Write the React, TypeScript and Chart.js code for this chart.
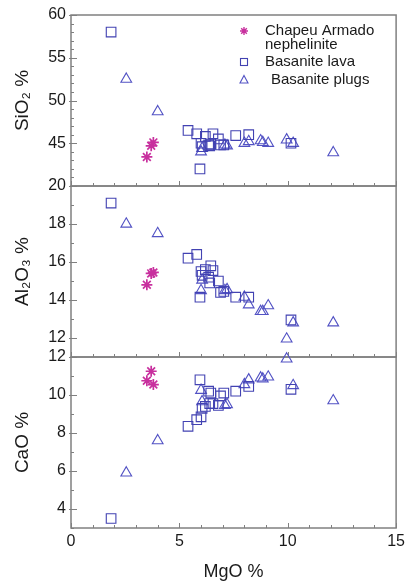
import React, { useEffect, useRef } from 'react';
import { Chart, registerables } from 'chart.js';

Chart.register(...registerables);

// ---- tick labels ----
const mgoTicks = [0, 5, 10, 15];
const sio2Ticks = [45, 50, 55, 60];
const al2o3Ticks = [12, 14, 16, 18, 20];
const caoTicks = [4, 6, 8, 10, 12];

// ---- series: Chapeu Armado nephelinite ----
const nephMgO = [3.5, 3.7, 3.8];
const nephSiO2 = [43.4, 44.7, 45.1];
const nephAl2O3 = [14.8, 15.4, 15.45];
const nephCaO = [10.75, 11.25, 10.55];

// ---- series: Basanite lava ----
const lavaMgO = [1.85, 5.4, 5.8, 5.95, 6.0, 6.05, 6.2, 6.35, 6.4, 6.45, 6.55, 6.8, 6.9, 7.05, 7.6, 8.2, 10.15];
const lavaSiO2 = [58.0, 46.5, 46.1, 42.0, 45.0, 44.6, 45.8, 44.8, 44.7, 44.9, 46.1, 45.5, 44.8, 44.8, 45.9, 46.0, 45.0];
const lavaAl2O3 = [19.1, 16.2, 16.4, 14.15, 15.5, 15.3, 15.6, 15.2, 14.9, 15.8, 15.55, 15.0, 14.4, 14.45, 14.15, 14.15, 12.95];
const lavaCaO = [3.5, 8.35, 8.7, 10.8, 8.85, 9.3, 9.4, 10.2, 9.55, 10.1, 9.55, 9.45, 9.95, 10.1, 10.2, 10.45, 10.3];

// ---- series: Basanite plugs ----
const plugMgO = [2.55, 4.0, 6.0, 6.05, 7.1, 7.2, 8.0, 8.2, 8.75, 8.85, 9.1, 9.95, 10.25, 12.1];
const plugSiO2 = [52.5, 48.7, 44.0, 44.4, 44.8, 44.7, 45.0, 45.2, 45.3, 45.1, 45.0, 45.4, 45.0, 43.9];
const plugAl2O3 = [18.0, 17.5, 14.5, 15.05, 14.5, 14.55, 14.15, 13.75, 13.4, 13.4, 13.7, 11.95, 12.8, 12.8];
const plugCaO = [5.9, 7.6, 10.25, 9.65, 9.45, 9.5, 10.55, 10.8, 10.9, 10.85, 10.95, 11.9, 10.5, 9.7];

const seriesNames = ['Chapeu Armado nephelinite', 'Basanite lava', 'Basanite plugs'];

const FONT = "'Liberation Sans', Arial, sans-serif";
const TEXT = '#1a1a1a';
const FRAME = '#808080';
const C_NEPH = '#c8309e';
const C_LAVA = '#4242b2';
const C_PLUG = '#5252c4';

const pts = (xs: number[], ys: number[]) => xs.map((x, i) => ({ x, y: ys[i] }));

const panels = [
  { id: 'ySi', min: 40, max: 60, ticks: sio2Ticks, title: 'SiO\u2082 %' },
  { id: 'yAl', min: 11, max: 20, ticks: al2o3Ticks, title: 'Al\u2082O\u2083 %' },
  { id: 'yCa', min: 3, max: 12, ticks: caoTicks, title: 'CaO %' },
];

const framePlugin = {
  id: 'frames',
  beforeDatasetsDraw(chart: any) {
    const { ctx, chartArea } = chart;
    const xs = chart.scales.x;
    ctx.save();
    ctx.strokeStyle = FRAME;
    panels.forEach((p) => {
      const ys = chart.scales[p.id];
      ctx.lineWidth = 1.5;
      ctx.strokeRect(chartArea.left, ys.top, chartArea.right - chartArea.left, ys.bottom - ys.top);
      ctx.lineWidth = 1;
      ctx.beginPath();
      for (let v = xs.min; v <= xs.max; v += 1) {
        const px = Math.round(xs.getPixelForValue(v)) + 0.5;
        const len = v % 5 === 0 ? 5 : 3;
        ctx.moveTo(px, ys.bottom);
        ctx.lineTo(px, ys.bottom - len);
      }
      for (let v = ys.min; v <= ys.max; v += 1) {
        const py = Math.round(ys.getPixelForValue(v)) + 0.5;
        const major = p.ticks.includes(v);
        ctx.moveTo(chartArea.left - (major ? 2 : 0), py);
        ctx.lineTo(chartArea.left + (major ? 6 : 3), py);
      }
      ctx.stroke();
    });
    ctx.restore();
  },
};

const legendPlugin = {
  id: 'customLegend',
  afterDraw(chart: any) {
    const { ctx } = chart;
    ctx.save();
    const mx = 244;
    const tx = 265;
    ctx.font = `15px ${FONT}`;
    ctx.fillStyle = TEXT;
    ctx.textBaseline = 'middle';
    ctx.textAlign = 'left';
    // asterisk
    ctx.strokeStyle = C_NEPH;
    ctx.lineWidth = 1.4;
    const ay = 31;
    const r = 4;
    ctx.beginPath();
    for (let k = 0; k < 4; k++) {
      const a = (k * Math.PI) / 4;
      ctx.moveTo(mx - Math.cos(a) * r, ay - Math.sin(a) * r);
      ctx.lineTo(mx + Math.cos(a) * r, ay + Math.sin(a) * r);
    }
    ctx.stroke();
    ctx.fillText('Chapeu Armado', tx, ay);
    ctx.fillText('nephelinite', tx, ay + 14);
    // square
    ctx.lineWidth = 1.1;
    ctx.strokeStyle = C_LAVA;
    const sy = 62;
    ctx.strokeRect(mx - 3.5, sy - 3.5, 7, 7);
    ctx.fillText(seriesNames[1], tx, sy);
    // triangle
    ctx.strokeStyle = C_PLUG;
    const ty = 80;
    ctx.beginPath();
    ctx.moveTo(mx, ty - 4.5);
    ctx.lineTo(mx + 4, ty + 3);
    ctx.lineTo(mx - 4, ty + 3);
    ctx.closePath();
    ctx.stroke();
    ctx.fillText(seriesNames[2], tx + 6, ty);
    ctx.restore();
  },
};

export default function App() {
  const ref = useRef<HTMLCanvasElement | null>(null);

  useEffect(() => {
    if (!ref.current) return;
    const datasets: any[] = [];
    const ySeries = [
      [nephSiO2, lavaSiO2, plugSiO2],
      [nephAl2O3, lavaAl2O3, plugAl2O3],
      [nephCaO, lavaCaO, plugCaO],
    ];
    panels.forEach((p, i) => {
      datasets.push({
        label: seriesNames[0], xAxisID: 'x', yAxisID: p.id, data: pts(nephMgO, ySeries[i][0]),
        pointStyle: 'star', pointRadius: 5.5, borderColor: C_NEPH, pointBorderWidth: 1.7,
        backgroundColor: 'rgba(0,0,0,0)', clip: false,
      });
      datasets.push({
        label: seriesNames[1], xAxisID: 'x', yAxisID: p.id, data: pts(lavaMgO, ySeries[i][1]),
        pointStyle: 'rect', pointRadius: 6.8, borderColor: C_LAVA, pointBorderWidth: 1.1,
        backgroundColor: 'rgba(0,0,0,0)', clip: false,
      });
      datasets.push({
        label: seriesNames[2], xAxisID: 'x', yAxisID: p.id, data: pts(plugMgO, ySeries[i][2]),
        pointStyle: 'triangle', pointRadius: 6.2, borderColor: C_PLUG, pointBorderWidth: 1.1,
        backgroundColor: 'rgba(0,0,0,0)', clip: false,
      });
    });

    const scales: any = {
      x: {
        type: 'linear', position: 'bottom', min: 0, max: 15,
        afterBuildTicks: (s: any) => { s.ticks = mgoTicks.map((v) => ({ value: v })); },
        afterFit: (s: any) => { s.height = 55; },
        grid: { display: false, drawTicks: false },
        border: { display: false },
        ticks: { font: { family: FONT, size: 16 }, color: TEXT, padding: 4, maxRotation: 0 },
        title: { display: true, text: 'MgO %', font: { family: FONT, size: 18 }, color: TEXT, padding: { top: 4, bottom: 0 } },
      },
    };
    // stacked y axes: later-defined are placed on top
    [...panels].reverse().forEach((p) => {
      scales[p.id] = {
        type: 'linear', position: 'left', stack: 'oxides', stackWeight: 1, min: p.min, max: p.max,
        afterBuildTicks: (s: any) => { s.ticks = p.ticks.map((v) => ({ value: v })); },
        afterFit: (s: any) => { s.width = 71; },
        grid: { display: false, drawTicks: false },
        border: { display: false },
        ticks: { font: { family: FONT, size: 16 }, color: TEXT, padding: 5 },
        title: { display: true, text: p.title, font: { family: FONT, size: 19 }, color: TEXT, padding: { top: 11, bottom: 0 } },
      };
    });

    const chart = new Chart(ref.current, {
      type: 'scatter',
      data: { datasets },
      options: {
        responsive: false,
        animation: false,
        events: [],
        layout: { padding: { left: 0, right: 10, top: 15, bottom: 0 } },
        plugins: { legend: { display: false }, tooltip: { enabled: false } },
        scales,
      },
      plugins: [framePlugin, legendPlugin],
    } as any);
    return () => chart.destroy();
  }, []);

  return (
    <div style={{ position: 'absolute', left: 0, top: 0, width: 409, height: 583, background: '#fff' }}>
      <canvas ref={ref} width={409} height={583} style={{ width: 409, height: 583 }} />
    </div>
  );
}
